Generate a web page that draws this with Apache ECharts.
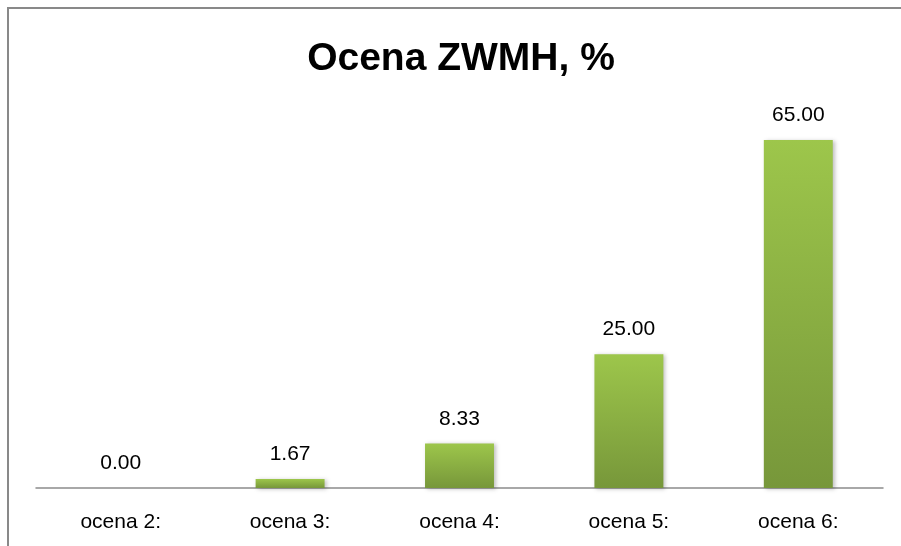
<!DOCTYPE html>
<html>
<head>
<meta charset="utf-8">
<script src="https://cdn.jsdelivr.net/npm/echarts@6/dist/echarts.min.js"></script>
<style>
html,body{margin:0;padding:0;background:#fff;}
#chart{width:901px;height:546px;}
</style>
</head>
<body>
<div id="chart"></div>
<script>
const titleText = 'Ocena ZWMH, %';
const categories = ['ocena 2:', 'ocena 3:', 'ocena 4:', 'ocena 5:', 'ocena 6:'];
const values = [0.00, 1.67, 8.33, 25.00, 65.00];

const chart = echarts.init(document.getElementById('chart'));
const font = '"Liberation Sans", Arial, sans-serif';
chart.setOption({
  animation: false,
  backgroundColor: '#fff',
  title: {
    text: titleText,
    left: 456,
    top: 35,
    textAlign: 'center',
    textStyle: { fontFamily: font, fontSize: 39, fontWeight: 'bold', color: '#000' }
  },
  graphic: [{
    type: 'rect',
    shape: { x: 8, y: 8, width: 910, height: 560 },
    style: { fill: 'none', stroke: '#898989', lineWidth: 2 },
    silent: true
  }],
  grid: { left: 36, right: 18, top: 113.2, bottom: 58 },
  xAxis: {
    type: 'category',
    data: categories,
    axisLine: { lineStyle: { color: '#8c8c8c', width: 1.5 } },
    axisTick: { show: false },
    axisLabel: { fontFamily: font, fontSize: 21, color: '#000', margin: 24 }
  },
  yAxis: {
    type: 'value',
    min: 0,
    max: 70,
    show: false,
    splitLine: { show: false }
  },
  series: [{
    type: 'bar',
    data: values,
    barWidth: '40.7%',
    itemStyle: {
      color: new echarts.graphic.LinearGradient(0, 0, 0, 1, [
        { offset: 0, color: '#9dc64b' },
        { offset: 1, color: '#77973a' }
      ]),
      shadowColor: 'rgba(0,0,0,0.25)',
      shadowBlur: 4,
      shadowOffsetX: 2,
      shadowOffsetY: 1
    },
    label: {
      show: true,
      position: 'top',
      distance: 14,
      fontFamily: font,
      fontSize: 21,
      color: '#000',
      formatter: p => p.value.toFixed(2)
    }
  }]
});
</script>
</body>
</html>
